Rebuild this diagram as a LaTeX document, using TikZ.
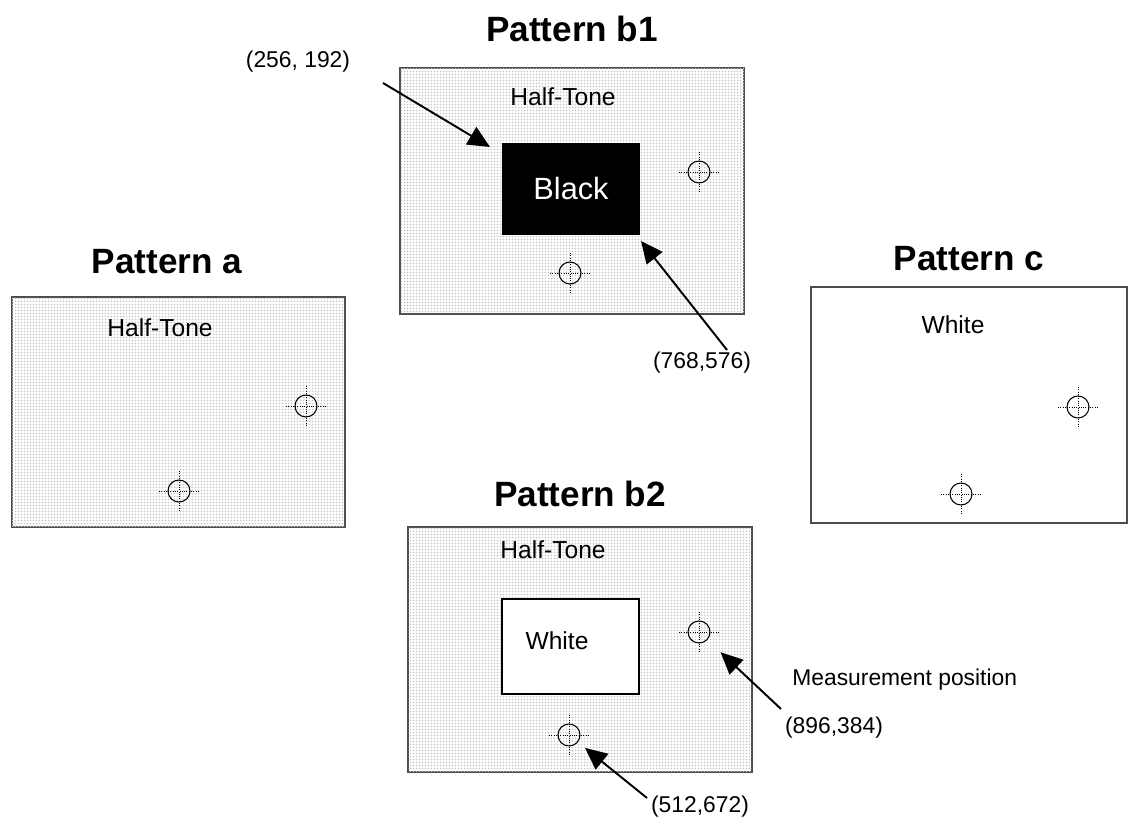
\documentclass[tikz,border=0pt]{standalone}
\usepackage{fontspec}
\setmainfont{Liberation Sans}
\usepackage{xcolor}
\usetikzlibrary{arrows.meta,positioning,patterns.meta}

\tikzdeclarepattern{
  name=htdots,
  type=uncolored,
  bounding box={(0pt,0pt) and (1.7pt,1.7pt)},
  tile size={(1.7pt,1.7pt)},
  code={\fill (0.85pt,0.85pt) circle (0.5pt);}
}

\begin{document}
\begin{tikzpicture}[x=0.02cm, y=-0.02cm, >={Triangle[length=4.4mm,width=4mm]},
  halftone/.style={draw=black!70, line width=0.8pt, fill=white,
                   postaction={pattern=htdots, pattern color=gray!45}, inner sep=0pt},
  plain/.style={draw=black!70, line width=0.8pt, fill=white, inner sep=0pt},
  title/.style={font=\bfseries\fontsize{20}{24}\selectfont, inner sep=0pt},
  txt/.style={font=\fontsize{14}{17}\selectfont, inner sep=0pt},
  note/.style={font=\fontsize{13}{16}\selectfont, inner sep=0pt},
  target/.style={circle, draw, line width=0.6pt, minimum size=0.44cm, inner sep=0pt},
  crossline/.style={line width=0.4pt, dash pattern=on 0.5pt off 0.8pt},
  pointer/.style={->, line width=1.1pt}]

\useasboundingbox (0,0) rectangle (1128,820);

\node[halftone, minimum width=6.66cm, minimum height=4.6cm]  (boxA)  at (178.5,412) {};
\node[halftone, minimum width=6.88cm, minimum height=4.92cm] (boxB1) at (572,191)   {};
\node[halftone, minimum width=6.88cm, minimum height=4.9cm]  (boxB2) at (580,649.5) {};
\node[plain,    minimum width=6.32cm, minimum height=4.72cm] (boxC)  at (969,405)   {};

\node[title] (titleA)  [above=0.44cm of boxA.north, xshift=-0.23cm] {Pattern a};
\node[title] (titleB1) [above=0.5cm of boxB1.north]                 {Pattern b1};
\node[title] (titleB2) [above=0.38cm of boxB2.north]                {Pattern b2};
\node[title] (titleC)  [above=0.3cm of boxC.north]                  {Pattern c};

\node[fill=black, text=white, minimum width=2.76cm, minimum height=1.84cm, inner sep=0pt,
      font=\fontsize{17.5}{21}\selectfont] (black) at (571,189) {Black};
\node[draw=black, line width=0.6pt, fill=white, minimum width=2.74cm, minimum height=1.9cm,
      inner sep=0pt] (white) at (570.5,646.5) {};

\node[txt] (htA)  at (160,328) {Half-Tone};
\node[txt] (htB1) at (563,97)  {Half-Tone};
\node[txt] (htB2) at (553,550) {Half-Tone};
\node[txt] (whB2) at (557,641) {White};
\node[txt] (whC)  at (953,325) {White};

\node[target] (tA1)  at (306,406)  {};
\node[target] (tA2)  at (179,491)  {};
\node[target] (tB11) at (699,172)  {};
\node[target] (tB12) at (570,273)  {};
\node[target] (tB21) at (699,632)  {};
\node[target] (tB22) at (569,735)  {};
\node[target] (tC1)  at (1078,407) {};
\node[target] (tC2)  at (961,494)  {};

\foreach \t in {tA1,tA2,tB11,tB12,tB21,tB22,tC1,tC2}
  \draw[crossline] (\t.center) +(-20,0) -- +(20,0) (\t.center) +(0,-20) -- +(0,20);

\node[note] (posTL) at (298,62)  {(256, 192)};
\node[note] (posBR) at (702,363) {(768,576)};
\node[note, anchor=west] (meas) at (792,680) {Measurement position};
\node[note] (posM)  at (834,728) {(896,384)};
\node[note] (posB)  at (700,807) {(512,672)};

\coordinate (tlFrom) at (383,83);
\coordinate (tlTo)   at (490,147);
\coordinate (brFrom) at (727,350);
\coordinate (brTo)   at (641,241);
\coordinate (mFrom)  at (781,709);
\coordinate (bFrom)  at (647,798);

\path(tlFrom) edge[pointer]                   (tlTo);
\path(brFrom) edge[pointer]                   (brTo);
\path(mFrom)  edge[pointer, shorten >=0.36cm] (tB21);
\path(bFrom)  edge[pointer, shorten >=0.18cm] (tB22);

\end{tikzpicture}
\end{document}
